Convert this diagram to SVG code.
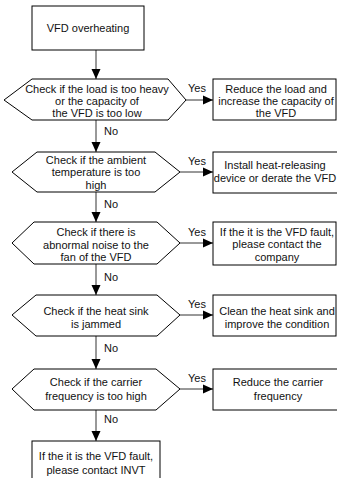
<svg xmlns="http://www.w3.org/2000/svg" width="337" height="478" viewBox="0 0 337 478">
<style>
.s{fill:#fff;stroke:#000;stroke-width:1}
.t{font-family:"Liberation Sans",Arial,sans-serif;font-size:11px;fill:#111;text-anchor:middle}
.l{font-family:"Liberation Sans",Arial,sans-serif;font-size:11px;fill:#111}
.c{stroke:#333;stroke-width:1;fill:none;marker-end:url(#ah)}
</style>
<defs>
<marker id="ah" markerUnits="userSpaceOnUse" markerWidth="10" markerHeight="10" viewBox="0 0 10 10" refX="10" refY="5" orient="auto">
<path d="M0,0.5 L10,5 L0,9.5 Z" fill="#000"/>
</marker>
</defs>
<rect width="337" height="478" fill="#fff"/>
<g id="connectors">
<line class="c" x1="96" y1="50" x2="96" y2="79"/>
<line class="c" x1="186" y1="100" x2="213" y2="100"/>
<line class="c" x1="96" y1="120" x2="96" y2="152"/>
<line class="c" x1="180" y1="172" x2="213" y2="172"/>
<line class="c" x1="96" y1="192" x2="96" y2="222"/>
<line class="c" x1="180" y1="243" x2="213" y2="243"/>
<line class="c" x1="96" y1="264" x2="96" y2="295"/>
<line class="c" x1="180" y1="315" x2="213" y2="315"/>
<line class="c" x1="96" y1="336" x2="96" y2="369"/>
<line class="c" x1="180" y1="389" x2="213" y2="389"/>
<line class="c" x1="96" y1="410" x2="96" y2="441"/>
<text class="l" x="188" y="92">Yes</text>
<text class="l" x="104" y="135">No</text>
<text class="l" x="188" y="165">Yes</text>
<text class="l" x="104" y="208">No</text>
<text class="l" x="188" y="236">Yes</text>
<text class="l" x="104" y="281">No</text>
<text class="l" x="188" y="308">Yes</text>
<text class="l" x="104" y="352">No</text>
<text class="l" x="188" y="382">Yes</text>
<text class="l" x="104" y="423">No</text>
</g>
<g id="start">
<rect class="s" x="32" y="6" width="112" height="44"/>
<text class="t" x="88" y="32">VFD overheating</text>
</g>
<g id="check1">
<polygon class="s" points="4,100 32,79 168,79 186,100 168,120 32,120"/>
<text class="t" x="97" y="93">Check if the load is too heavy</text>
<text class="t" x="97" y="105">or the capacity of</text>
<text class="t" x="97" y="117">the VFD is too low</text>
</g>
<g id="action1">
<rect class="s" x="213" y="79" width="123" height="41"/>
<text class="t" x="276" y="93">Reduce the load and</text>
<text class="t" x="276" y="105">increase the capacity of</text>
<text class="t" x="276" y="117">the VFD</text>
</g>
<g id="check2">
<polygon class="s" points="12,172 37,152 155,152 180,172 155,192 37,192"/>
<text class="t" x="96" y="164">Check if the ambient</text>
<text class="t" x="96" y="176">temperature is too</text>
<text class="t" x="96" y="189">high</text>
</g>
<g id="action2">
<rect class="s" x="213" y="152" width="130" height="41"/>
<text class="t" x="275" y="169">Install heat-releasing</text>
<text class="t" x="275" y="182">device or derate the VFD</text>
</g>
<g id="check3">
<polygon class="s" points="12,243 34,222 157,222 180,243 157,264 34,264"/>
<text class="t" x="96" y="236">Check if there is</text>
<text class="t" x="96" y="249">abnormal noise to the</text>
<text class="t" x="96" y="261">fan of the VFD</text>
</g>
<g id="action3">
<rect class="s" x="213" y="222" width="123" height="43"/>
<text class="t" x="277" y="236">If the it is the VFD fault,</text>
<text class="t" x="277" y="248">please contact the</text>
<text class="t" x="277" y="261">company</text>
</g>
<g id="check4">
<polygon class="s" points="12,315 36,295 157,295 180,315 157,336 36,336"/>
<text class="t" x="96" y="315">Check if the heat sink</text>
<text class="t" x="96" y="328">is jammed</text>
</g>
<g id="action4">
<rect class="s" x="213" y="295" width="123" height="41"/>
<text class="t" x="277" y="315">Clean the heat sink and</text>
<text class="t" x="277" y="328">improve the condition</text>
</g>
<g id="check5">
<polygon class="s" points="12,389 34,369 156,369 180,389 156,410 34,410"/>
<text class="t" x="96" y="386">Check if the carrier</text>
<text class="t" x="96" y="400">frequency is too high</text>
</g>
<g id="action5">
<rect class="s" x="213" y="369" width="130" height="41"/>
<text class="t" x="278" y="386">Reduce the carrier</text>
<text class="t" x="278" y="400">frequency</text>
</g>
<g id="end">
<rect class="s" x="32" y="441" width="128" height="45"/>
<text class="t" x="96" y="460">If the it is the VFD fault,</text>
<text class="t" x="96" y="474">please contact INVT</text>
</g>
</svg>
